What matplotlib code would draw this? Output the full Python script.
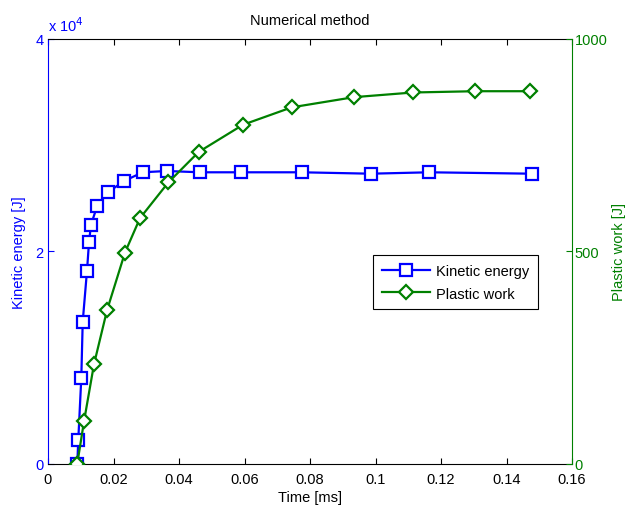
import matplotlib
matplotlib.use("Agg")
import matplotlib.pyplot as plt
from matplotlib.ticker import FuncFormatter

plt.rcParams['font.family'] = ['Liberation Sans', 'DejaVu Sans']
plt.rcParams['font.size'] = 10

# Kinetic energy series
ke_time = [0.00895, 0.00925, 0.01017, 0.01060, 0.01191, 0.01252, 0.01313, 0.01505,
           0.01832, 0.02321, 0.02892, 0.03624, 0.04641, 0.05884, 0.07747, 0.09853,
           0.11643, 0.14779]
ke_vals = [0, 2243, 8085, 13362, 18167, 20843, 22502, 24292,
           25555, 26620, 27440, 27562, 27440, 27440, 27440, 27308,
           27440, 27308]

# Plastic work series
pw_time = [0.00895, 0.01099, 0.01405, 0.01802, 0.02351, 0.02809, 0.03673, 0.04602,
           0.05954, 0.07441, 0.09344, 0.11145, 0.13038, 0.14708]
pw_vals = [0, 99, 234, 361, 497, 578, 662, 734,
           798, 839, 863, 874, 877, 877]

x_ticks = [0, 0.02, 0.04, 0.06, 0.08, 0.1, 0.12, 0.14, 0.16]
x_labels = ['0', '0.02', '0.04', '0.06', '0.08', '0.1', '0.12', '0.14', '0.16']
ke_ticks = [0, 20000, 40000]
pw_ticks = [0, 500, 1000]

blue = (0, 0, 1)
green = (0, 0.5, 0)

fig = plt.figure(figsize=(6.29, 5.10), dpi=100)
ax = fig.add_axes([48/629, 1-464.5/510, 524/629, 424.5/510])
ax2 = ax.twinx()

l1, = ax.plot(ke_time, ke_vals, color=blue, lw=1.6, marker='s', ms=8,
              mfc='white', mec=blue, mew=1.6, label='Kinetic energy')
l2, = ax2.plot(pw_time, pw_vals, color=green, lw=1.6, marker='D', ms=7,
               mfc='white', mec=green, mew=1.6, label='Plastic work')

ax.set_xlim(0, 0.16)
ax.set_ylim(0, 40000)
ax2.set_ylim(0, 1000)
ax.set_xticks(x_ticks)
ax.set_xticklabels(x_labels)
ax.set_yticks(ke_ticks)
ax.yaxis.set_major_formatter(FuncFormatter(lambda v, p: f'{v/1e4:g}'))
ax2.set_yticks(pw_ticks)
ax2.set_yticklabels([str(v) for v in pw_ticks])

for a in (ax, ax2):
    a.tick_params(direction='in', length=4, width=0.8, labelsize=10.5)
ax.tick_params(axis='x', top=True, pad=6)
ax.tick_params(axis='y', colors=blue, pad=3)
ax2.tick_params(axis='y', colors=green, pad=2)

for s in ('top', 'bottom'):
    ax.spines[s].set_color('black')
ax.spines['left'].set_color(blue)
ax2.spines['left'].set_visible(False)
ax2.spines['right'].set_color(green)
ax.spines['right'].set_visible(False)
ax2.spines['top'].set_visible(False)
ax2.spines['bottom'].set_visible(False)

ax.text(0, 1.012, r'x 10$^4$', transform=ax.transAxes, color=blue, fontsize=10.5,
        ha='left', va='bottom')
ax.set_title('Numerical method', fontsize=10.5, pad=11)
ax.set_xlabel('Time [ms]', fontsize=10.5, labelpad=3)
ax.set_ylabel('Kinetic energy [J]', color=blue, fontsize=10.5, labelpad=7)
ax2.set_ylabel('Plastic work [J]', color=green, fontsize=10.5, labelpad=3)

leg = ax2.legend([l1, l2], ['Kinetic energy', 'Plastic work'], loc='upper left',
                 bbox_to_anchor=(0.62, 0.491), fancybox=False, edgecolor='black',
                 framealpha=1, fontsize=10.5, handlelength=3.3, borderpad=0.6,
                 labelspacing=0.6, handletextpad=0.4, borderaxespad=0)
leg.get_frame().set_linewidth(0.8)

fig.savefig('out.png', dpi=100)
